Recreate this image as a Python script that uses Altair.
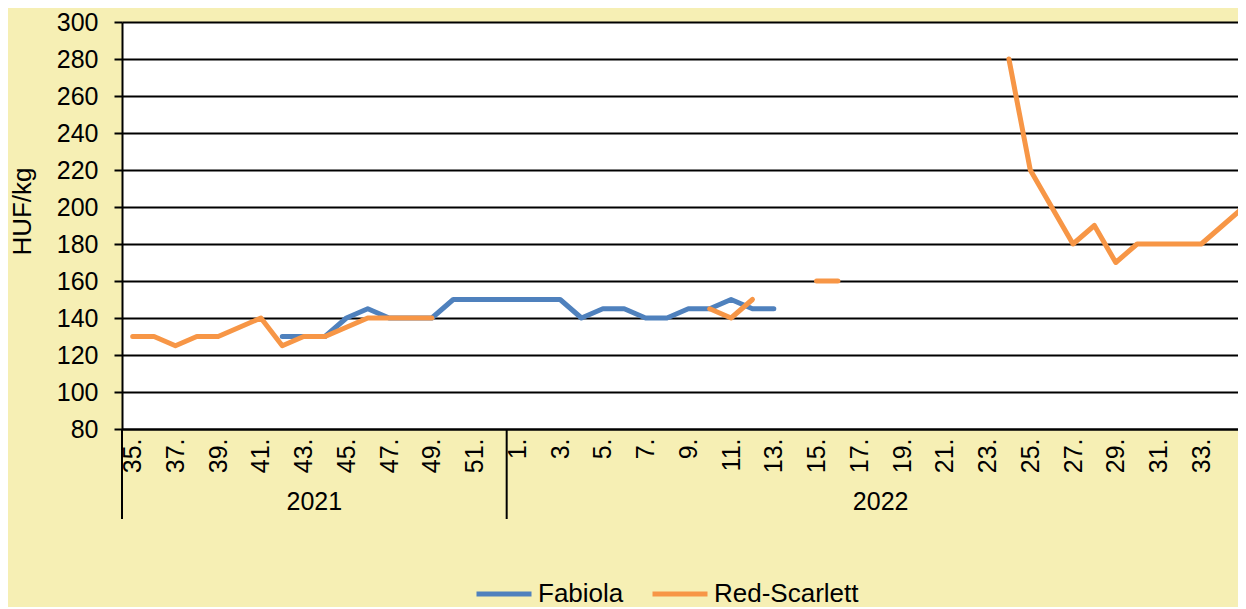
import altair as alt
import pandas as pd

# ---- data ----
weeks_2021 = ["35.", "36.", "37.", "38.", "39.", "40.", "41.", "42.", "43.", "44.",
              "45.", "46.", "47.", "48.", "49.", "50.", "51.", "52."]
weeks_2022 = ["1.", "2.", "3.", "4.", "5.", "6.", "7.", "8.", "9.", "10.",
              "11.", "12.", "13.", "14.", "15.", "16.", "17.", "18.", "19.", "20.",
              "21.", "22.", "23.", "24.", "25.", "26.", "27.", "28.", "29.", "30.",
              "31.", "32.", "33.", "34.", "35."]
years = ["2021", "2022"]

fabiola_2021 = [None, None, None, None, None, None, None, 130, 130, 130,
                140, 145, 140, 140, 140, 150, 150, 150]
fabiola_2022 = [150, 150, 150, 140, 145, 145, 140, 140, 145, 145,
                150, 145, 145, None, None, None, None, None, None, None,
                None, None, None, None, None, None, None, None, None, None,
                None, None, None, None, None]
red_2021 = [130, 130, 125, 130, 130, 135, 140, 125, 130, 130,
            135, 140, 140, 140, 140, None, None, None]
red_2022 = [None, None, None, None, None, None, None, None, None, 145,
            140, 150, None, None, 160, 160, None, None, None, None,
            None, None, None, 280, 220, 200, 180, 190, 170, 180,
            180, 180, 180, 190, 200]

series_names = ["Fabiola", "Red-Scarlett"]
series_colors = ["#4F81BD", "#F79646"]
y_ticks = [80, 100, 120, 140, 160, 180, 200, 220, 240, 260, 280, 300]

# ---- build tables ----
labels = weeks_2021 + weeks_2022
rows = []
for name, vals in [("Fabiola", fabiola_2021 + fabiola_2022),
                   ("Red-Scarlett", red_2021 + red_2022)]:
    seg = 0
    prev = None
    for i, v in enumerate(vals):
        if v is None:
            prev = None
            continue
        if prev is None:
            seg += 1
        rows.append({"idx": i, "series": name, "value": v, "seg": f"{name}-{seg}"})
        prev = v
df = pd.DataFrame(rows)

n21 = len(weeks_2021)
n22 = len(weeks_2022)
groups = pd.DataFrame({
    "year": years,
    "center": [(n21 - 1) / 2, n21 + (n22 - 1) / 2],
    "start": [-0.5, n21 - 0.5],
})

PLOT_W = 1116
xscale = alt.Scale(domain=[-0.5, 51.72], nice=False, zero=False)
label_expr = "[" + ",".join(f"'{l}'" for l in labels) + "][datum.value]"
FONT = "Liberation Sans"

lines = alt.Chart(df).mark_line(strokeWidth=5, strokeCap="round", strokeJoin="round",
                                clip=True).encode(
    x=alt.X("idx:Q", scale=xscale,
            axis=alt.Axis(values=list(range(0, len(labels), 2)), labelExpr=label_expr,
                          title=None, grid=False, ticks=False, labelAngle=270,
                          labelOverlap=False, labelFlush=False, labelBound=False,
                          labelPadding=9, labelFontSize=25, labelFont=FONT,
                          labelColor="black", domainColor="black", domainWidth=2)),
    y=alt.Y("value:Q", scale=alt.Scale(domain=[80, 300], nice=False, zero=False),
            axis=alt.Axis(values=y_ticks, title="HUF/kg", grid=True, gridColor="black",
                          gridWidth=2, domainColor="black", domainWidth=2,
                          tickColor="black", tickSize=8, tickWidth=2, labelPadding=16,
                          labelFontSize=25, labelFont=FONT, labelColor="black",
                          titleFontSize=26, titleFont=FONT, titleFontWeight="normal",
                          titleColor="black", titlePadding=21, titleY=189)),
    color=alt.Color("series:N", scale=alt.Scale(domain=series_names, range=series_colors),
                    legend=alt.Legend(orient="none", legendX=352, legendY=542,
                                      direction="horizontal", title=None,
                                      symbolType="stroke", symbolSize=3025,
                                      symbolStrokeWidth=5, labelFontSize=26,
                                      labelFont=FONT, labelColor="black",
                                      labelOffset=4, columnPadding=18, padding=0)),
    detail="seg:N",
    order="idx:Q",
)

seps = alt.Chart(groups).mark_rule(color="black", strokeWidth=2).encode(
    x=alt.X("start:Q", scale=xscale, title=None),
    y=alt.value(407),
    y2=alt.value(497),
)

year_text = alt.Chart(groups).mark_text(fontSize=25, font=FONT, color="black",
                                        align="center", baseline="middle").encode(
    x=alt.X("center:Q", scale=xscale, title=None),
    y=alt.value(480),
    text="year:N",
)

chart = alt.layer(lines, seps, year_text).properties(
    width=PLOT_W, height=407,
    autosize=alt.AutoSizeParams(type="none"),
    padding={"left": 114, "top": 14, "right": 0, "bottom": 178},
    background="#F6EFB4",
).configure_view(fill="white", stroke="transparent")

chart.save("out.html", embed_options={"renderer": "svg", "actions": False})
